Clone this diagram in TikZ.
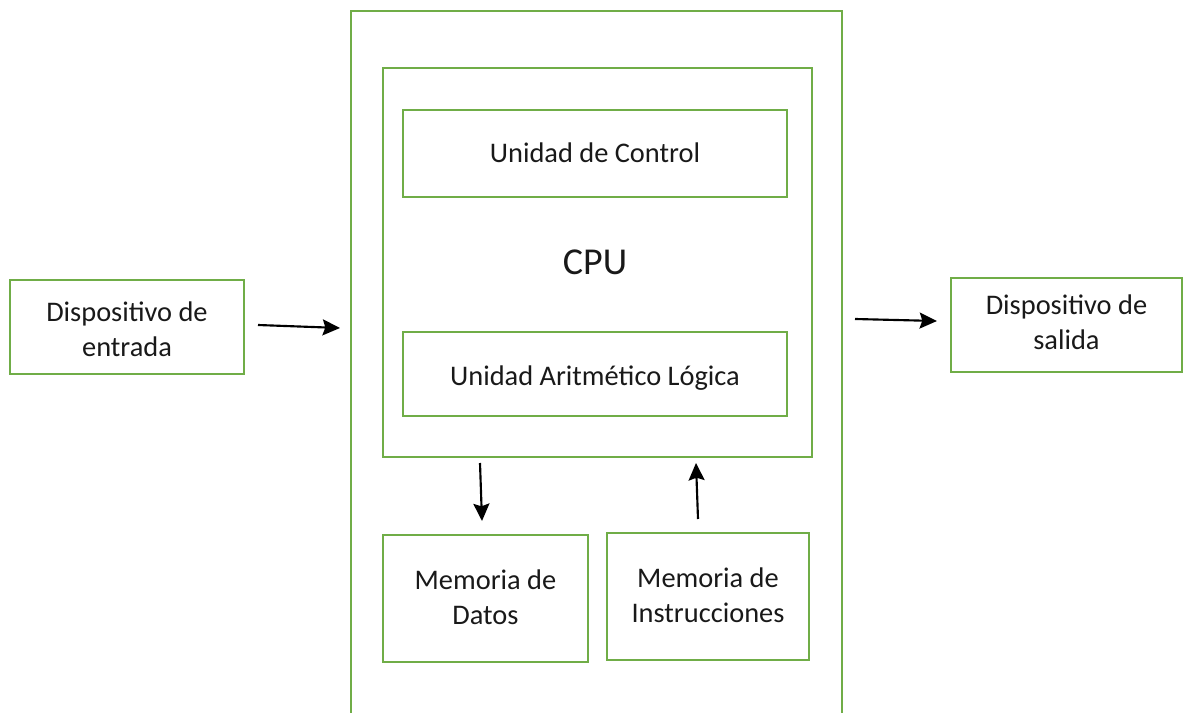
\documentclass[tikz,border=0pt]{standalone}
\usepackage{fontspec}
\setmainfont{Carlito}
\usetikzlibrary{arrows.meta,calc}
\definecolor{boxgreen}{HTML}{70AD47}
\begin{document}
\begin{tikzpicture}[x=0.75pt,y=-0.75pt,
  box/.style={draw=boxgreen,line width=1.5pt,rectangle,inner sep=0pt},
  txt/.style={inner sep=0pt,align=center,font=\fontsize{21.3}{26.2}\selectfont,text=black!90},
  arr/.style={draw=black,line width=1.6pt,-{Stealth[length=13pt,width=12pt,inset=2pt]}}]
\useasboundingbox (0,0) rectangle (1183,713);
% outer box (open at the bottom)
\coordinate (oBL) at (351,716);
\coordinate (oTL) at (351,11);
\coordinate (oTR) at (842,11);
\coordinate (oBR) at (842,716);
\draw[draw=boxgreen,line width=1.5pt] (oBL) -- (oTL) -- (oTR) -- (oBR);
% boxes
\node[box,minimum width=175.5pt,minimum height=70.5pt] (in) at (127,327) {};
\node[txt] (intext) at ($(in)+(0,2)$) {Dispositivo de\\entrada};
\node[box,minimum width=173.25pt,minimum height=70.5pt] (out) at (1066.5,325) {};
\node[txt] (outtext) at ($(out)+(0,-3)$) {Dispositivo de\\salida};
\node[box,minimum width=321.75pt,minimum height=291.75pt] (cpu) at (597.5,262.5) {};
\node[box,minimum width=288pt,minimum height=65.25pt] (uc) at (595,153.5) {};
\node[txt] (uctext) at ($(uc)+(0,-1)$) {Unidad de Control};
\node[inner sep=0pt,font=\fontsize{28.5}{32}\selectfont,text=black!90] (cpulabel) at (595,262) {CPU};
\node[box,minimum width=288pt,minimum height=63pt] (alu) at (595,374) {};
\node[txt] (alutext) at ($(alu)+(0,4)$) {Unidad Aritmético Lógica};
\node[box,minimum width=153.75pt,minimum height=95.25pt] (md) at (485.5,598.5) {};
\node[txt] (mdtext) at ($(md)+(0,-1)$) {Memoria de\\Datos};
\node[box,minimum width=151.5pt,minimum height=95.25pt] (mi) at (708,596.5) {};
\node[txt] (mitext) at ($(mi)+(0,-1)$) {Memoria de\\Instrucciones};
% arrows
\draw[arr] ($(in.east)+(13,-2)$) -- ($(oTL|-in.east)+(-11,1)$);
\draw[arr] ($(oTR|-out.west)+(13,-6)$) -- ($(out.west)+(-13,-4)$);
\draw[arr] ($(cpu.south west)+(98,5)$) -- ($(md.north west)+(100,-13)$);
\draw[arr] ($(mi.north west)+(92,-13)$) -- ($(cpu.south west)+(314,5)$);
\end{tikzpicture}
\end{document}
